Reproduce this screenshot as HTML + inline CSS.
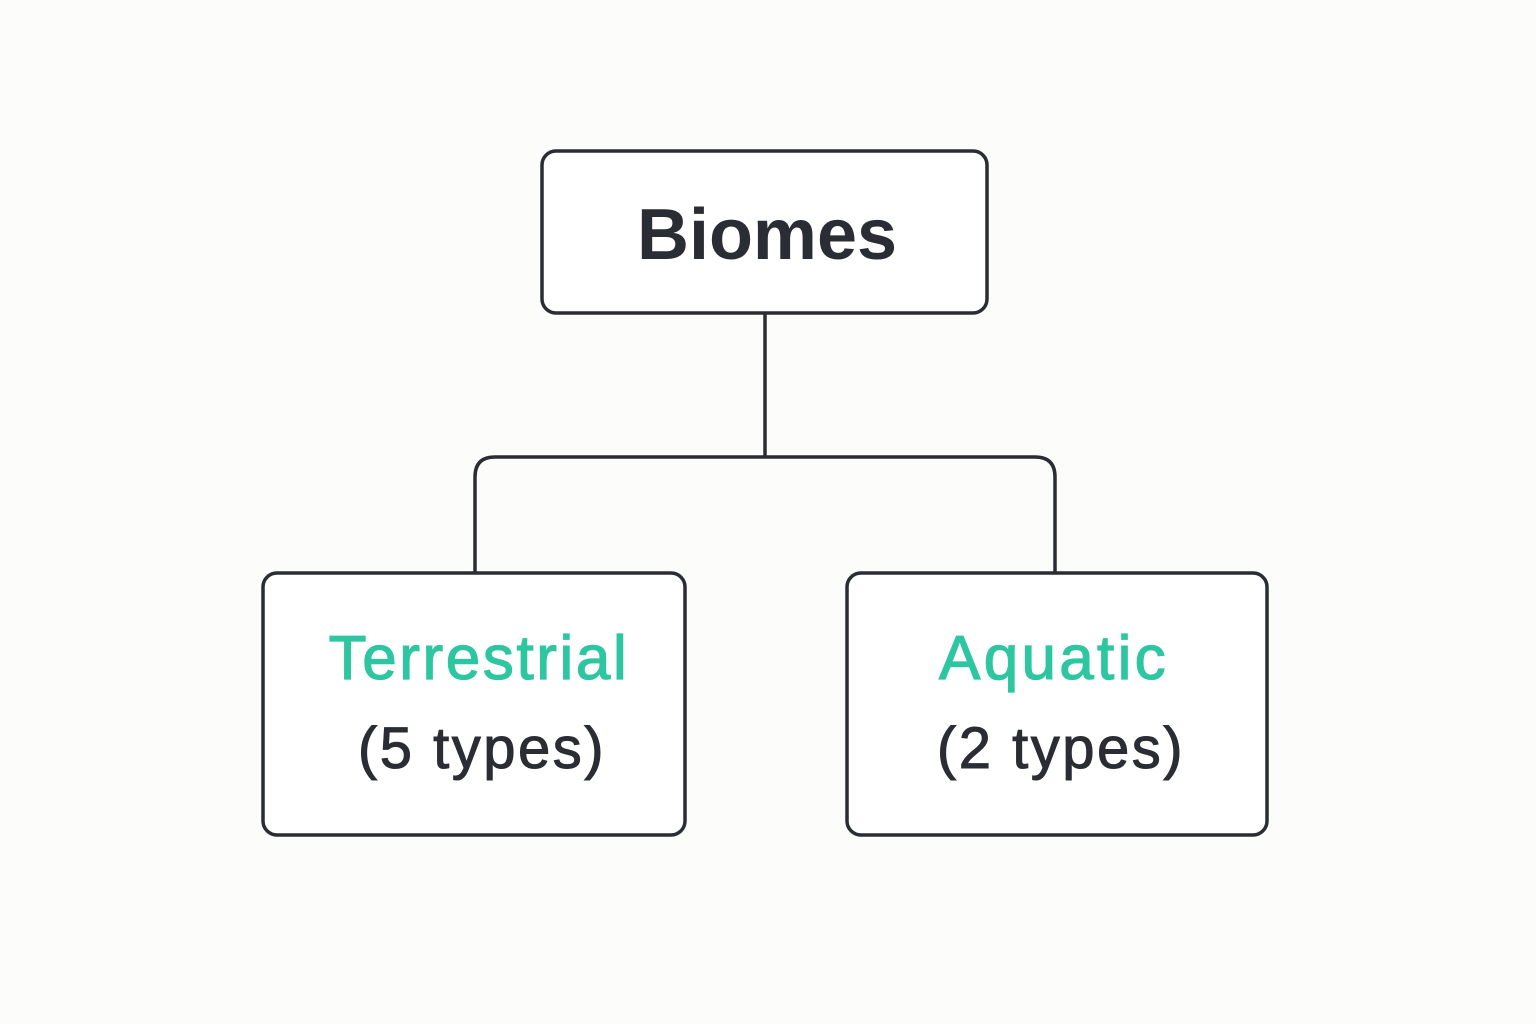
<!DOCTYPE html>
<html><head><meta charset="utf-8"><style>
html,body{margin:0;padding:0;background:#fcfcfa;}
svg{display:block}
</style></head><body>
<svg width="1536" height="1024" viewBox="0 0 1536 1024" xmlns="http://www.w3.org/2000/svg">
<rect width="1536" height="1024" fill="#fcfcfa"/>
<g fill="#fff" stroke="#2a2d33" stroke-width="3.5">
<rect x="542" y="151" width="445" height="162" rx="14"/>
<rect x="263" y="573" width="422" height="262" rx="14"/>
<rect x="847" y="573" width="420" height="262" rx="14"/>
</g>
<g fill="none" stroke="#2a2d33" stroke-width="3.5">
<path d="M765 313 V457"/>
<path d="M475 573 V477 Q475 457 495 457 H1035 Q1055 457 1055 477 V573"/>
</g>
<g font-family="Liberation Sans, sans-serif" text-anchor="middle">
<text x="767" y="259" font-size="72" font-weight="bold" fill="#2a2d33">Biomes</text>
<text x="479" y="679" font-size="62" fill="#2ec6a0" stroke="#2ec6a0" stroke-width="1.2" letter-spacing="2.6">Terrestrial</text>
<text x="482" y="768" font-size="58" fill="#2a2d33" stroke="#2a2d33" stroke-width="1" letter-spacing="2.5">(5 types)</text>
<text x="1054" y="679" font-size="62" fill="#2ec6a0" stroke="#2ec6a0" stroke-width="1.2" letter-spacing="3.3">Aquatic</text>
<text x="1061" y="768" font-size="58" fill="#2a2d33" stroke="#2a2d33" stroke-width="1" letter-spacing="2.5">(2 types)</text>
</g>
</svg>
</body></html>
